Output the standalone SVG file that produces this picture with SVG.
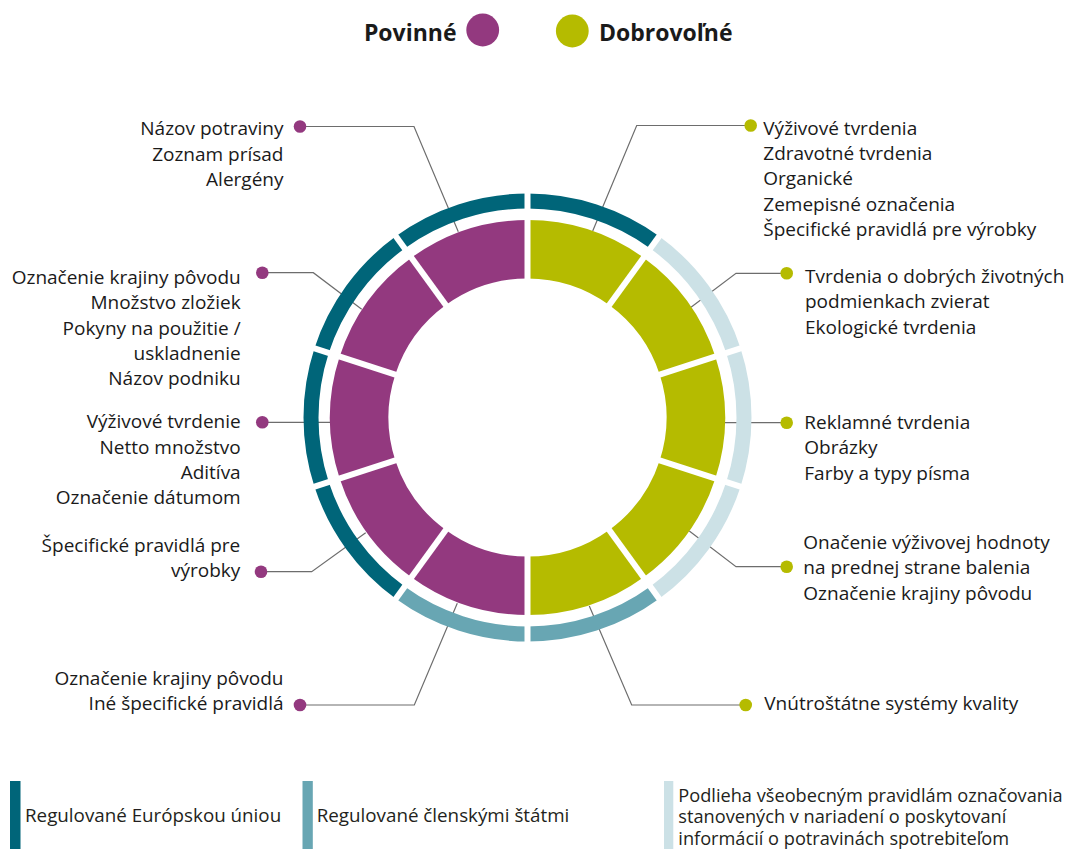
<svg xmlns="http://www.w3.org/2000/svg" width="1086" height="849" viewBox="0 0 1086 849">
<style>
.lbl{font-family:"Open Sans","Liberation Sans",sans-serif;font-size:19px;fill:#1a1a1a}
.r{text-anchor:end}
.hd{font-family:"Open Sans","Liberation Sans",sans-serif;font-size:23px;font-weight:bold;fill:#1a1a1a}
.lg{font-family:"Open Sans","Liberation Sans",sans-serif;font-size:18.8px;fill:#231f20}
.lg2{font-family:"Open Sans","Liberation Sans",sans-serif;font-size:18.2px;fill:#231f20}
.in{fill:none;stroke-width:58.5}
.out{fill:none;stroke-width:15}
.p{stroke:#93397f}
.g{stroke:#b5bb00}
.dk{stroke:#006579}
.md{stroke:#68a6b3}
.lt{stroke:#cce1e6}
.con{fill:none;stroke:#6d6d6d;stroke-width:1.2}
.dp{fill:#93397f}
.dg{fill:#b5bb00}
</style>
<rect width="1086" height="849" fill="#ffffff"/>

<g id="legend-top">
<text class="hd" x="456.5" y="41" text-anchor="end">Povinné</text>
<circle cx="482.7" cy="30" r="16.4" fill="#93397f"/>
<circle cx="572.3" cy="31" r="16.4" fill="#b5bb00"/>
<text class="hd" x="599" y="41">Dobrovoľné</text>
</g>

<g id="connectors">
<polyline class="con" points="300,126.5 414,126.5 458.3,231.7"/>
<polyline class="con" points="262.3,272.7 313.3,272.7 361.7,309.3"/>
<polyline class="con" points="262.3,422.3 330,422.3"/>
<polyline class="con" points="261,571.7 311.7,571.7 365.7,532.7"/>
<polyline class="con" points="300,705 414.3,705 457.3,603.3"/>
<polyline class="con" points="750.7,125.5 636.7,125.5 592.7,231"/>
<polyline class="con" points="786.7,273.3 736,273.3 691,307.3"/>
<polyline class="con" points="786.7,422.7 725,422.7"/>
<polyline class="con" points="786.7,566.7 736,566.7 689.3,531"/>
<polyline class="con" points="745.7,705 631.7,705 589.3,606"/>
</g>

<g id="ring">
<g id="seg-g1">
<path class="in g" d="M527.5,249.25 A168.25,168.25 0 0 1 626.40,281.38"/>
<path class="out dk" d="M527.5,201 A216.5,216.5 0 0 1 654.76,242.35"/>
</g>
<g id="seg-g2">
<path class="in g" d="M626.40,281.38 A168.25,168.25 0 0 1 687.52,365.51"/>
<path class="out lt" d="M654.76,242.35 A216.5,216.5 0 0 1 733.40,350.60"/>
</g>
<g id="seg-g3">
<path class="in g" d="M687.52,365.51 A168.25,168.25 0 0 1 687.52,469.49"/>
<path class="out lt" d="M733.40,350.60 A216.5,216.5 0 0 1 733.40,484.40"/>
</g>
<g id="seg-g4">
<path class="in g" d="M687.52,469.49 A168.25,168.25 0 0 1 626.40,553.62"/>
<path class="out lt" d="M733.40,484.40 A216.5,216.5 0 0 1 654.76,592.65"/>
</g>
<g id="seg-g5">
<path class="in g" d="M626.40,553.62 A168.25,168.25 0 0 1 527.5,585.75"/>
<path class="out md" d="M654.76,592.65 A216.5,216.5 0 0 1 527.5,634"/>
</g>
<g id="seg-p1">
<path class="in p" d="M527.5,585.75 A168.25,168.25 0 0 1 428.61,553.62"/>
<path class="out md" d="M527.5,634 A216.5,216.5 0 0 1 400.24,592.65"/>
</g>
<g id="seg-p2">
<path class="in p" d="M428.61,553.62 A168.25,168.25 0 0 1 367.49,469.49"/>
<path class="out dk" d="M400.24,592.65 A216.5,216.5 0 0 1 321.60,484.40"/>
</g>
<g id="seg-p3">
<path class="in p" d="M367.49,469.49 A168.25,168.25 0 0 1 367.49,365.51"/>
<path class="out dk" d="M321.60,484.40 A216.5,216.5 0 0 1 321.60,350.60"/>
</g>
<g id="seg-p4">
<path class="in p" d="M367.49,365.51 A168.25,168.25 0 0 1 428.61,281.38"/>
<path class="out dk" d="M321.60,350.60 A216.5,216.5 0 0 1 400.24,242.35"/>
</g>
<g id="seg-p5">
<path class="in p" d="M428.61,281.38 A168.25,168.25 0 0 1 527.5,249.25"/>
<path class="out dk" d="M400.24,242.35 A216.5,216.5 0 0 1 527.5,201"/>
</g>
<g id="gaps" stroke="#ffffff" stroke-width="6">
<line x1="527.5" y1="185.5" x2="527.5" y2="649.5"/>
<line x1="663.87" y1="229.81" x2="391.13" y2="605.19"/>
<line x1="748.15" y1="345.81" x2="306.86" y2="489.19"/>
<line x1="748.15" y1="489.19" x2="306.86" y2="345.81"/>
<line x1="663.87" y1="605.19" x2="391.13" y2="229.81"/>
</g>
</g>

<g id="node-l1">
<circle class="dp" cx="300" cy="126.5" r="6.3"/>
<text class="lbl r" x="283.5" y="135">Názov potraviny</text>
<text class="lbl r" x="283.5" y="160.5">Zoznam prísad</text>
<text class="lbl r" x="283.5" y="186">Alergény</text>
</g>
<g id="node-l2">
<circle class="dp" cx="262.3" cy="272.7" r="6.3"/>
<text class="lbl r" x="240.7" y="284">Označenie krajiny pôvodu</text>
<text class="lbl r" x="240.7" y="309.3">Množstvo zložiek</text>
<text class="lbl r" x="240.7" y="334.6">Pokyny na použitie /</text>
<text class="lbl r" x="240.7" y="359.9">uskladnenie</text>
<text class="lbl r" x="240.7" y="385.2">Názov podniku</text>
</g>
<g id="node-l3">
<circle class="dp" cx="262.3" cy="422.3" r="6.3"/>
<text class="lbl r" x="240.7" y="428.3">Výživové tvrdenie</text>
<text class="lbl r" x="240.7" y="453.5">Netto množstvo</text>
<text class="lbl r" x="240.7" y="478.7">Aditíva</text>
<text class="lbl r" x="240.7" y="504">Označenie dátumom</text>
</g>
<g id="node-l4">
<circle class="dp" cx="261" cy="571.7" r="6.3"/>
<text class="lbl r" x="240.3" y="551.7">Špecifické pravidlá pre</text>
<text class="lbl r" x="240.3" y="576.9">výrobky</text>
</g>
<g id="node-l5">
<circle class="dp" cx="300" cy="705" r="6.3"/>
<text class="lbl r" x="283.5" y="685">Označenie krajiny pôvodu</text>
<text class="lbl r" x="283.5" y="710.3">Iné špecifické pravidlá</text>
</g>

<g id="node-r1">
<circle class="dg" cx="750.7" cy="125.5" r="6.3"/>
<text class="lbl" x="763.3" y="135">Výživové tvrdenia</text>
<text class="lbl" x="763.3" y="160.2">Zdravotné tvrdenia</text>
<text class="lbl" x="763.3" y="185.4">Organické</text>
<text class="lbl" x="763.3" y="210.7">Zemepisné označenia</text>
<text class="lbl" x="763.3" y="236">Špecifické pravidlá pre výrobky</text>
</g>
<g id="node-r2">
<circle class="dg" cx="786.7" cy="273.3" r="6.3"/>
<text class="lbl" x="805" y="282.7">Tvrdenia o dobrých životných</text>
<text class="lbl" x="805" y="308.2">podmienkach zvierat</text>
<text class="lbl" x="805" y="333.5">Ekologické tvrdenia</text>
</g>
<g id="node-r3">
<circle class="dg" cx="786.7" cy="422.7" r="6.3"/>
<text class="lbl" x="804.3" y="429">Reklamné tvrdenia</text>
<text class="lbl" x="804.3" y="454.4">Obrázky</text>
<text class="lbl" x="804.3" y="479.8">Farby a typy písma</text>
</g>
<g id="node-r4">
<circle class="dg" cx="786.7" cy="566.7" r="6.3"/>
<text class="lbl" x="803.3" y="549">Onačenie výživovej hodnoty</text>
<text class="lbl" x="803.3" y="574.4">na prednej strane balenia</text>
<text class="lbl" x="803.3" y="599.8">Označenie krajiny pôvodu</text>
</g>
<g id="node-r5">
<circle class="dg" cx="745.7" cy="705" r="6.3"/>
<text class="lbl" x="764.3" y="710.3">Vnútroštátne systémy kvality</text>
</g>

<g id="legend-bottom">
<rect x="10" y="781" width="10.5" height="68" fill="#006579"/>
<text class="lg" x="25" y="821.7">Regulované Európskou úniou</text>
<rect x="302.5" y="781" width="10.3" height="68" fill="#68a6b3"/>
<text class="lg" x="316.7" y="821.7">Regulované členskými štátmi</text>
<rect x="664" y="781" width="9.3" height="68" fill="#cce1e6"/>
<text class="lg2" x="678.3" y="801.7">Podlieha všeobecným pravidlám označovania</text>
<text class="lg2" x="678.3" y="823.3">stanovených v nariadení o poskytovaní</text>
<text class="lg2" x="678.3" y="845">informácií o potravinách spotrebiteľom</text>
</g>
</svg>
